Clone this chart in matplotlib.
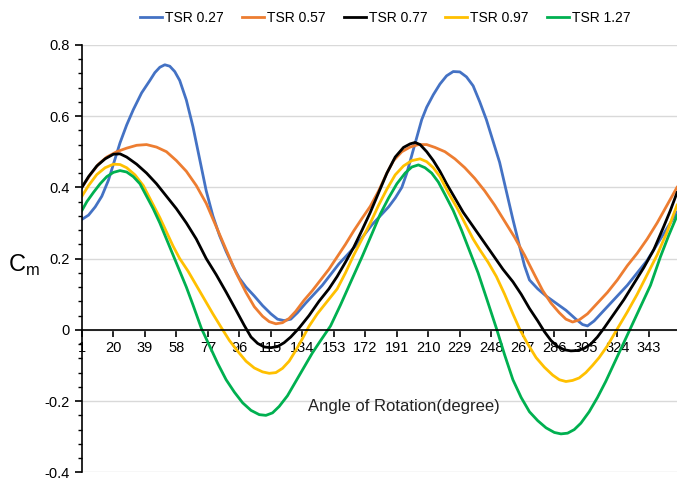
import matplotlib.pyplot as plt
from matplotlib.ticker import MultipleLocator, FuncFormatter

plt.rcParams['font.family'] = ['Liberation Sans', 'DejaVu Sans']
plt.rcParams['axes.unicode_minus'] = False

# Cm vs angle of rotation
blue_deg = [1, 5, 9, 13, 17, 20, 24, 28, 32, 37, 42, 45, 48, 51, 54, 57, 60, 64, 68, 72, 76, 80, 84, 88,
            92, 96, 100, 105, 110, 115, 119, 123, 127, 131, 136, 141, 146, 151, 156, 161, 166, 171, 176,
            181, 186, 190, 194, 197, 200, 203, 206, 209, 213, 217, 221, 225, 229, 233, 237, 241, 245, 249,
            253, 257, 261, 265, 268, 271, 276, 281, 287, 293, 299, 303, 306, 310, 314, 318, 324, 330, 336,
            342, 348, 354, 360]
blue_val = [0.31, 0.322, 0.345, 0.375, 0.42, 0.465, 0.525, 0.575, 0.618, 0.665, 0.70, 0.722, 0.737, 0.744,
            0.74, 0.725, 0.70, 0.645, 0.57, 0.48, 0.39, 0.32, 0.265, 0.22, 0.18, 0.145, 0.12, 0.095, 0.068,
            0.045, 0.03, 0.026, 0.03, 0.048, 0.075, 0.10, 0.125, 0.155, 0.185, 0.21, 0.235, 0.265, 0.295,
            0.32, 0.345, 0.37, 0.40, 0.44, 0.49, 0.54, 0.59, 0.625, 0.66, 0.69, 0.713, 0.725, 0.724, 0.71,
            0.685, 0.64, 0.59, 0.53, 0.47, 0.39, 0.31, 0.235, 0.18, 0.14, 0.115, 0.095, 0.075, 0.055, 0.03,
            0.015, 0.011, 0.025, 0.045, 0.065, 0.095, 0.125, 0.16, 0.195, 0.24, 0.285, 0.33]

orange_deg = [1, 6, 11, 16, 22, 28, 34, 40, 46, 52, 58, 64, 70, 76, 82, 88, 94, 100, 105, 110, 114, 118,
              122, 126, 130, 135, 140, 145, 150, 155, 160, 165, 170, 175, 180, 185, 189, 194, 199, 204, 209,
              214, 220, 226, 232, 238, 244, 250, 256, 262, 268, 274, 279, 284, 289, 293, 297, 301, 306, 312,
              318, 324, 330, 336, 342, 348, 354, 360]
orange_val = [0.40, 0.435, 0.465, 0.485, 0.50, 0.51, 0.518, 0.52, 0.513, 0.50, 0.475, 0.445, 0.405, 0.355,
              0.29, 0.225, 0.16, 0.105, 0.065, 0.038, 0.023, 0.017, 0.02, 0.032, 0.052, 0.083, 0.11, 0.14,
              0.17, 0.205, 0.24, 0.278, 0.313, 0.347, 0.39, 0.44, 0.475, 0.50, 0.513, 0.52, 0.52, 0.512,
              0.50, 0.48, 0.455, 0.425, 0.39, 0.35, 0.305, 0.26, 0.21, 0.155, 0.11, 0.075, 0.048, 0.03,
              0.022, 0.028, 0.045, 0.075, 0.105, 0.14, 0.18, 0.215, 0.255, 0.30, 0.35, 0.40]

black_deg = [1, 5, 10, 15, 20, 24, 28, 34, 40, 46, 52, 58, 64, 70, 76, 82, 88, 94, 99, 103, 107, 111, 115,
             119, 123, 127, 132, 138, 144, 150, 155, 160, 165, 170, 175, 180, 185, 190, 195, 199, 202, 205,
             209, 213, 217, 221, 226, 231, 237, 243, 249, 255, 261, 266, 271, 276, 280, 284, 288, 292, 296,
             300, 304, 308, 312, 316, 322, 328, 334, 340, 346, 352, 356, 360]
black_val = [0.40, 0.43, 0.46, 0.48, 0.493, 0.494, 0.485, 0.465, 0.44, 0.41, 0.375, 0.34, 0.30, 0.255, 0.20,
             0.155, 0.106, 0.055, 0.012, -0.02, -0.038, -0.048, -0.05, -0.047, -0.036, -0.02, 0.005, 0.04,
             0.08, 0.115, 0.15, 0.19, 0.232, 0.28, 0.33, 0.385, 0.44, 0.485, 0.512, 0.522, 0.526, 0.52,
             0.50, 0.475, 0.445, 0.41, 0.37, 0.33, 0.29, 0.25, 0.21, 0.17, 0.135, 0.10, 0.06, 0.025,
             -0.005, -0.03, -0.047, -0.056, -0.059, -0.058, -0.052, -0.04, -0.02, 0.005, 0.045, 0.085,
             0.13, 0.175, 0.225, 0.29, 0.335, 0.385]

yellow_deg = [1, 5, 10, 15, 20, 24, 28, 33, 38, 43, 48, 52, 56, 60, 65, 70, 75, 80, 85, 90, 95, 100, 105,
              110, 114, 118, 122, 126, 130, 134, 138, 143, 149, 155, 160, 165, 170, 175, 180, 185, 190, 195,
              200, 205, 209, 213, 217, 222, 227, 232, 237, 241, 246, 251, 256, 261, 265, 270, 275, 280, 285,
              289, 293, 297, 301, 305, 309, 313, 318, 324, 330, 336, 342, 348, 354, 360]
yellow_val = [0.375, 0.405, 0.436, 0.455, 0.465, 0.464, 0.455, 0.435, 0.405, 0.36, 0.315, 0.275, 0.235,
              0.20, 0.165, 0.125, 0.085, 0.045, 0.007, -0.03, -0.06, -0.088, -0.107, -0.118, -0.122, -0.12,
              -0.108, -0.088, -0.058, -0.025, 0.01, 0.045, 0.08, 0.115, 0.16, 0.21, 0.255, 0.30, 0.35, 0.395,
              0.435, 0.46, 0.475, 0.48, 0.472, 0.455, 0.43, 0.385, 0.345, 0.30, 0.255, 0.225, 0.19, 0.15,
              0.10, 0.045, 0.003, -0.04, -0.078, -0.105, -0.127, -0.14, -0.145, -0.142, -0.135, -0.12,
              -0.10, -0.078, -0.045, 0.003, 0.05, 0.10, 0.155, 0.21, 0.275, 0.35]

green_deg = [1, 4, 8, 12, 16, 20, 24, 28, 32, 36, 40, 44, 48, 52, 56, 60, 64, 68, 73, 78, 83, 88, 93, 98,
             103, 108, 112, 116, 120, 125, 130, 135, 140, 145, 151, 157, 164, 170, 176, 181, 186, 191, 196,
             200, 204, 208, 212, 216, 220, 225, 230, 235, 240, 245, 251, 256, 261, 266, 271, 276, 281, 286,
             290, 294, 298, 302, 307, 312, 317, 322, 327, 332, 338, 344, 350, 355, 360]
green_val = [0.335, 0.36, 0.386, 0.41, 0.43, 0.442, 0.447, 0.443, 0.43, 0.41, 0.375, 0.34, 0.30, 0.255,
             0.21, 0.165, 0.12, 0.07, 0.005, -0.045, -0.095, -0.14, -0.175, -0.205, -0.226, -0.238, -0.24,
             -0.233, -0.215, -0.185, -0.145, -0.105, -0.065, -0.03, 0.011, 0.07, 0.143, 0.205, 0.27, 0.325,
             0.37, 0.41, 0.44, 0.457, 0.463, 0.455, 0.44, 0.415, 0.38, 0.335, 0.28, 0.22, 0.16, 0.09, 0.005,
             -0.07, -0.14, -0.19, -0.23, -0.255, -0.275, -0.288, -0.292, -0.29, -0.28, -0.262, -0.23, -0.19,
             -0.145, -0.095, -0.045, 0.005, 0.065, 0.125, 0.205, 0.265, 0.32]

x_ticks = list(range(1, 344, 19))

fig = plt.figure(figsize=(6.77, 4.82), dpi=100)
ax = fig.add_axes([0.121, 0.02, 0.879, 0.887])

ax.plot(blue_deg, blue_val, color='#4472C4', lw=2.0, label='TSR 0.27')
ax.plot(orange_deg, orange_val, color='#ED7D31', lw=2.0, label='TSR 0.57')
ax.plot(black_deg, black_val, color='black', lw=2.0, label='TSR 0.77')
ax.plot(yellow_deg, yellow_val, color='#FFC000', lw=2.0, label='TSR 0.97')
ax.plot(green_deg, green_val, color='#00B050', lw=2.0, label='TSR 1.27')

ax.set_xlim(1, 360)
ax.set_ylim(-0.4, 0.8)
ax.yaxis.set_major_locator(MultipleLocator(0.2))
ax.yaxis.set_minor_locator(MultipleLocator(0.04))
ax.yaxis.set_major_formatter(FuncFormatter(lambda v, p: f'{v:.1f}' if abs(v) > 1e-9 else '0'))
ax.set_xticks(x_ticks)
ax.set_xticklabels([str(t) for t in x_ticks])

ax.grid(axis='y', color='#d9d9d9', lw=1)
ax.set_axisbelow(True)
for s in ['top', 'right']:
    ax.spines[s].set_visible(False)
ax.spines['bottom'].set_position(('data', 0))
ax.spines['left'].set_linewidth(1.2)
ax.spines['bottom'].set_linewidth(1.2)
ax.tick_params(axis='both', labelsize=10.5, colors='black', width=1.2)
ax.tick_params(axis='x', length=5, pad=3)
ax.tick_params(axis='y', which='major', length=5)
ax.tick_params(axis='y', which='minor', length=3, width=1)

ax.text(195, -0.215, 'Angle of Rotation(degree)', fontsize=12, ha='center', va='center', color='#222222')
fig.text(0.012, 0.45, r'C$_\mathregular{m}$', fontsize=17, ha='left', va='center')

fig.legend(loc='center', bbox_to_anchor=(0.569, 0.963), ncol=5, frameon=False, fontsize=10,
           handlelength=1.6, handletextpad=0.2, columnspacing=1.3)

plt.savefig('out.png', dpi=100)
